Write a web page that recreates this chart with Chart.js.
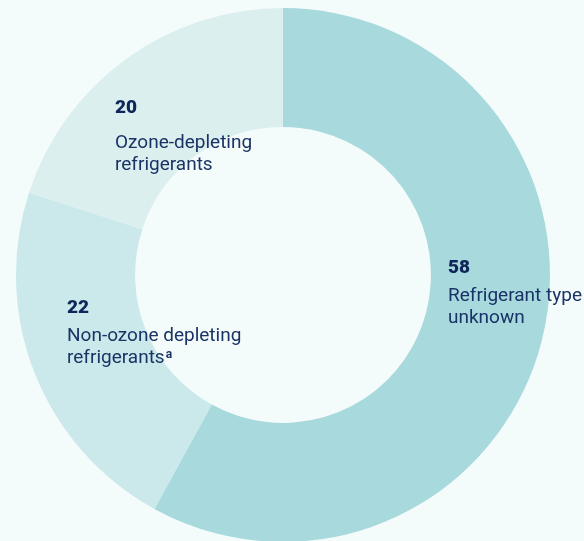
<!DOCTYPE html>
<html>
<head>
<meta charset="utf-8">
<script src="https://cdn.jsdelivr.net/npm/chart.js@4"></script>
<style>
  html, body { margin: 0; padding: 0; background: #f4fbfb; overflow: hidden; width: 584px; height: 541px; }
  #wrap { position: absolute; left: 0; top: 0; width: 584px; height: 550px; }
  .lbl { position: absolute; font-family: Roboto, "Noto Sans", sans-serif; color: #1a3366; font-size: 19px; line-height: 22px; }
  .lbl .num { font-weight: 900; color: #0e2659; font-size: 19px; line-height: 22px; }
  .lbl sup { font-size: 12px; font-weight: 700; vertical-align: top; position: relative; top: -3px; margin-left: 1px; }
</style>
</head>
<body>
<div id="wrap"><canvas id="c" width="584" height="550"></canvas></div>
<div class="lbl" id="l0" style="left:448px; top:256px;" data-gap="6"></div>
<div class="lbl" id="l1" style="left:67px; top:296px;" data-gap="6"></div>
<div class="lbl" id="l2" style="left:115px; top:96px;" data-gap="13"></div>
<script>
const categories = ["Refrigerant type unknown", "Non-ozone depleting refrigerants", "Ozone-depleting refrigerants"];
const labelLines = [["Refrigerant type", "unknown"], ["Non-ozone depleting", "refrigerants"], ["Ozone-depleting", "refrigerants"]];
const footnotes = ["", "a", ""];
const values = [58, 22, 20];
const colors = ["#a7d9dd", "#cbe8eb", "#dcefef"];

labelLines.forEach((lines, i) => {
  const el = document.getElementById("l" + i);
  const num = document.createElement("div");
  num.className = "num";
  num.style.marginBottom = el.dataset.gap + "px";
  num.textContent = values[i];
  el.appendChild(num);
  lines.forEach((t, j) => {
    const d = document.createElement("div");
    d.textContent = t;
    if (j === lines.length - 1 && footnotes[i]) {
      const s = document.createElement("sup");
      s.textContent = footnotes[i];
      d.appendChild(s);
    }
    el.appendChild(d);
  });
});

new Chart(document.getElementById("c"), {
  type: "doughnut",
  data: {
    labels: categories,
    datasets: [{ data: values, backgroundColor: colors, borderWidth: 0, hoverOffset: 0 }]
  },
  options: {
    responsive: false,
    animation: false,
    cutout: "55.4%",
    rotation: 0,
    layout: { padding: { left: 16, right: 34, top: 8, bottom: 8 } },
    plugins: { legend: { display: false }, tooltip: { enabled: false } }
  }
});
</script>
</body>
</html>
